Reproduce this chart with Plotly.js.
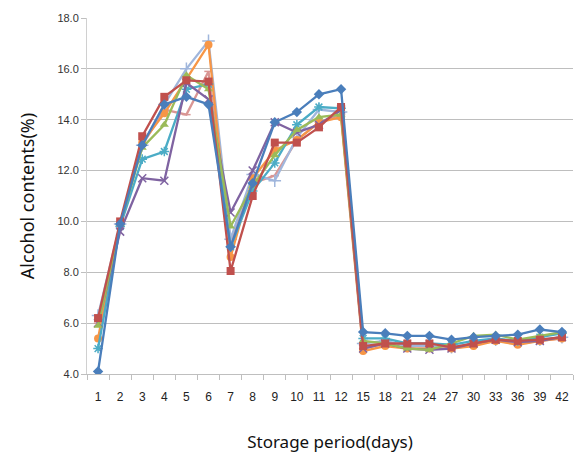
<!DOCTYPE html>
<html>
<head>
<meta charset="utf-8">
<script src="https://cdn.plot.ly/plotly-3.0.1.min.js"></script>
<style>html,body{margin:0;padding:0;background:#fff;}#chart{width:574px;height:456px;}</style>
</head>
<body>
<div id="chart"></div>
<script>
var days = ["1","2","3","4","5","6","7","8","9","10","11","12","15","18","21","24","27","30","33","36","39","42"];

var seriesBlue   = [4.1, 9.9, 13.0, 14.6, 14.9, 14.6, 9.0, 11.5, 13.9, 14.3, 15.0, 15.2, 5.65, 5.6, 5.5, 5.5, 5.35, 5.45, 5.5, 5.55, 5.75, 5.65];
var seriesRed    = [6.2, 10.0, 13.35, 14.9, 15.55, 15.5, 8.05, 11.0, 13.1, 13.1, 13.7, 14.5, 5.1, 5.2, 5.2, 5.2, 5.05, 5.2, 5.35, 5.3, 5.35, 5.45];
var seriesGreen  = [5.9, 9.9, 12.9, 13.8, 15.75, 15.2, 9.8, 11.4, 12.6, 13.6, 14.1, 14.2, 5.3, 5.2, 5.0, 4.95, 5.2, 5.5, 5.55, 5.35, 5.5, 5.65];
var seriesPurple = [6.0, 9.6, 11.7, 11.6, 15.45, 14.8, 10.35, 12.0, 13.9, 13.5, 13.8, 14.4, 5.0, 5.2, 5.0, 4.95, 5.0, 5.2, 5.35, 5.25, 5.3, 5.45];
var seriesAqua   = [5.0, 9.8, 12.45, 12.75, 15.2, 15.4, 9.0, 11.2, 12.3, 13.8, 14.5, 14.45, 5.4, 5.4, 5.2, 5.2, 5.15, 5.3, 5.4, 5.3, 5.45, 5.6];
var seriesOrange = [5.4, 9.9, 13.1, 14.25, 15.6, 16.95, 8.6, 11.7, 12.8, 13.2, 13.9, 14.1, 4.9, 5.1, 5.0, 5.0, 5.0, 5.1, 5.3, 5.15, 5.3, 5.4];
var seriesLight  = [6.3, 9.9, 13.0, 14.6, 16.0, 17.1, 9.3, 11.85, 11.6, 13.3, 14.4, 14.3, 5.2, 5.3, 5.1, 5.1, 5.05, 5.2, 5.35, 5.3, 5.35, 5.45];
var seriesPink   = [6.0, 9.9, 13.0, 14.4, 14.2, 15.9, 9.2, 11.5, 11.8, 13.2, 13.9, 14.2, 5.0, 5.2, 5.0, 5.0, 5.0, 5.15, 5.3, 5.2, 5.3, 5.4];

function tr(y, color, symbol, size, open) {
  var m = {symbol: symbol, size: size, color: color};
  if (open) { m.line = {color: color, width: 1.5}; }
  return {x: days, y: y, type: 'scatter', mode: 'lines+markers',
          line: {color: color, width: 2.3}, marker: m, showlegend: false, hoverinfo: 'skip'};
}

var data = [
  tr(seriesPink,   '#D99694', 'line-ew-open', 6, true),
  tr(seriesLight,  '#A0B6DC', 'cross-thin-open', 9, true),
  tr(seriesOrange, '#F79646', 'circle', 8, false),
  tr(seriesAqua,   '#4BACC6', 'asterisk-open', 8, true),
  tr(seriesPurple, '#7F63A1', 'x-thin-open', 8, true),
  tr(seriesGreen,  '#9BBB59', 'triangle-up', 8, false),
  tr(seriesRed,    '#C0504D', 'square', 8, false),
  tr(seriesBlue,   '#4A7EBB', 'diamond', 8, false)
];

var layout = {
  width: 574, height: 456,
  margin: {l: 87, r: 1, t: 18, b: 82},
  paper_bgcolor: '#ffffff', plot_bgcolor: '#ffffff',
  xaxis: {
    type: 'category', automargin: false, tickangle: 0,
    range: [-0.5, days.length - 0.5], autorange: false,
    showgrid: false,
    showline: true, linecolor: '#BFBFBF', linewidth: 1,
    ticks: 'outside', tickson: 'boundaries', ticklen: 5, tickcolor: '#BFBFBF',
    ticklabelstandoff: 12,
    tickfont: {family: 'Liberation Sans Narrow, Arial Narrow, sans-serif', size: 12, color: '#222'},
    title: {text: 'Storage period(days)', font: {family: 'Noto Sans, sans-serif', size: 17, color: '#111'}, standoff: 32},
    zeroline: false, fixedrange: true
  },
  yaxis: {
    range: [4, 18], dtick: 2, tick0: 4, tickformat: '.1f', automargin: false,
    showgrid: true, gridcolor: '#BEBEBE', gridwidth: 1,
    showline: true, linecolor: '#D0D0D0', linewidth: 1,
    ticks: 'outside', ticklen: 5, tickcolor: '#BFBFBF',
    tickfont: {family: 'Liberation Sans Narrow, Arial Narrow, sans-serif', size: 11, color: '#333'},
    title: {text: 'Alcohol contents(%)', font: {family: 'Noto Sans, sans-serif', size: 18, color: '#111'}, standoff: 18},
    zeroline: false, fixedrange: true
  }
};

Plotly.newPlot('chart', data, layout, {displayModeBar: false, staticPlot: true});
</script>
</body>
</html>
